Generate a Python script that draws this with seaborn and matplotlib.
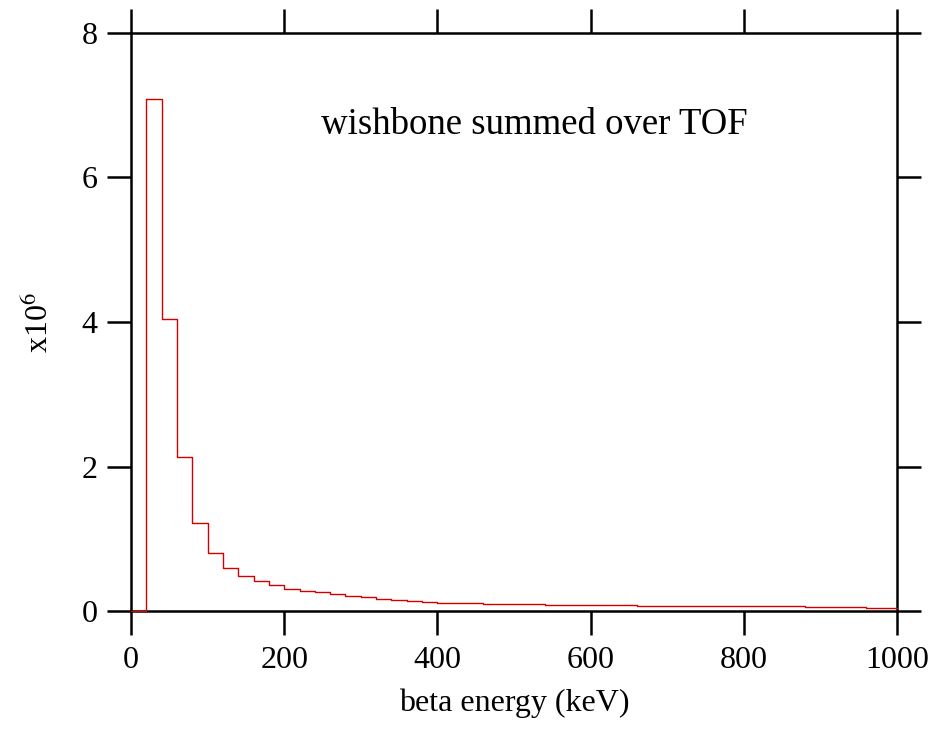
import numpy as np
import pandas as pd
import seaborn as sns
import matplotlib
matplotlib.use("Agg")
import matplotlib.pyplot as plt

# histogram: 20 keV bins from 0 to 1000 keV, counts in units of 1e6
bin_edges = list(range(0, 1001, 20))
counts = [
    0.0, 7.09, 4.04, 2.13, 1.22, 0.80, 0.60, 0.48, 0.41, 0.355,
    0.31, 0.28, 0.26, 0.23, 0.21, 0.19, 0.17, 0.15, 0.135, 0.125,
    0.118, 0.11, 0.105, 0.10, 0.098, 0.096, 0.093, 0.09, 0.087, 0.085,
    0.083, 0.08, 0.077, 0.072, 0.066, 0.065, 0.065, 0.065, 0.065, 0.065,
    0.065, 0.065, 0.065, 0.064, 0.058, 0.055, 0.052, 0.05, 0.046, 0.044,
]
x_ticks = [0, 200, 400, 600, 800, 1000]
y_ticks = [0, 2, 4, 6, 8]

sns.set_theme(style="ticks")
plt.rcParams["font.family"] = ["Liberation Serif", "DejaVu Serif"]
plt.rcParams["mathtext.fontset"] = "stix"
plt.rcParams["text.color"] = "black"
plt.rcParams["axes.labelcolor"] = "black"

df = pd.DataFrame({"energy": [e + 10 for e in bin_edges[:-1]], "counts": counts})

fig = plt.figure(figsize=(9.35, 7.33), dpi=100)
ax = fig.add_axes([0.1401, 0.1664, 0.8193, 0.7886])

sns.histplot(data=df, x="energy", weights="counts", bins=bin_edges,
             element="step", fill=False, color="#d40000", linewidth=1.0, ax=ax)

# draw the step outline on top of the frame, like the original
for art in ax.lines + ax.patches + ax.collections:
    art.set_zorder(5)
    art.set_clip_on(False)

ax.set_xlim(0, 1000)
ax.set_ylim(0, 8)
ax.set_xticks(x_ticks)
ax.set_yticks(y_ticks)
for s in ax.spines.values():
    s.set_linewidth(1.8)
    s.set_color("black")
ax.tick_params(axis="both", which="major", direction="out", length=17, width=1.8,
               labelsize=23, colors="black")
ax.tick_params(axis="x", pad=8, top=True)
ax.tick_params(axis="y", pad=7, right=True)

ax.set_xlabel("beta energy (keV)", fontsize=23, labelpad=10)
ax.set_ylabel("x10$^{6}$", fontsize=23, labelpad=19)

ax.text(527, 6.73, "wishbone summed over TOF", fontsize=26.5, ha="center", va="center")

plt.savefig("out.png", dpi=100)
plt.close()
